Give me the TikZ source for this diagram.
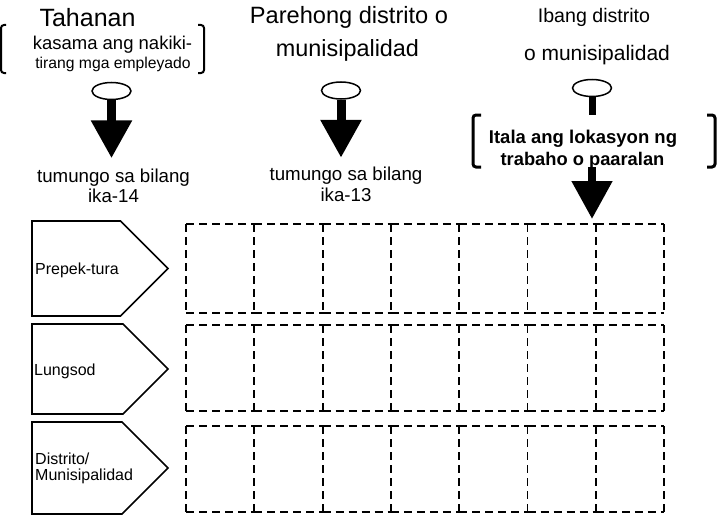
\documentclass[tikz,border=0pt]{standalone}
\usepackage{fontspec}
\setmainfont{Liberation Sans}
\usetikzlibrary{arrows.meta,shapes.geometric}
\newcommand{\fsz}[2]{\fontsize{#1}{#2}\selectfont}
\tikzset{
  blk/.style={line width=9pt,-{Triangle[width=39pt,length=38pt]}},
  ell/.style={ellipse,draw,line width=1.5pt,minimum width=39pt,minimum height=17pt,inner sep=0pt},
  brk/.style={line width=2pt,rounded corners=3pt},
  frame/.style={inner sep=0pt,outer sep=0pt},
  cell/.style={minimum width=68.3pt,inner sep=0pt,outer sep=0pt},
  dsh/.style={dash pattern=on 8pt off 5pt,line width=1.8pt},
  pent/.style={line width=1.6pt,line join=miter},
  lbl/.style={anchor=base,inner sep=0pt},
}

\begin{document}
\begin{tikzpicture}[x=1pt,y=-1pt]
	\useasboundingbox (0,0) rectangle (722,519);
	% left column
	\node[lbl,font=\fsz{25}{30}] (tah) at (87.5,27) {Tahanan};
	\node[lbl,font=\fsz{18.5}{22}] (tahb) at (112.5,49) {kasama ang nakiki-};
	\node[lbl,font=\fsz{15.7}{19}] (tahc) at (113,68) {tirang mga empleyado};
	\node[frame,minimum width=203pt,minimum height=48pt] (tahf) at (102.5,49) {};
	\draw[brk] ([xshift=5pt]tahf.north west) -- (tahf.north west) -- (tahf.south west) -- ([xshift=5pt]tahf.south west);
	\draw[brk] ([xshift=-6pt]tahf.north east) -- (tahf.north east) -- (tahf.south east) -- ([xshift=-6pt]tahf.south east);
	\node[ell] (ella) at (111.5,91) {};
	\node[lbl,font=\fsz{18.7}{22}] (tuma) at (113.5,182) {tumungo sa bilang};
	\node[lbl,font=\fsz{18.7}{22}] (ikaa) at (113.5,202.5) {ika-14};
	\draw[blk,shorten >=10pt] (ella.south) -- (ella.south |- tuma.north);
	% middle column
	\node[lbl,font=\fsz{23.6}{28}] (par) at (349,23.3) {Parehong distrito o};
	\node[lbl,font=\fsz{23.4}{28}] (parb) at (347.5,56.7) {munisipalidad};
	\node[ell] (ellb) at (341,90.5) {};
	\node[lbl,font=\fsz{18.7}{22}] (tumb) at (346,180.5) {tumungo sa bilang};
	\node[lbl,font=\fsz{18.7}{22}] (ikab) at (346,201.5) {ika-13};
	\draw[blk,shorten >=9pt] (ellb.south) -- (ellb.south |- tumb.north);
	% right column
	\node[lbl,font=\fsz{19.6}{24}] (iba) at (594,22.7) {Ibang distrito};
	\node[lbl,font=\fsz{21}{25}] (ibab) at (597,60) {o munisipalidad};
	\node[ell] (ellc) at (592,88) {};
	\node[lbl,font=\fsz{18.5}{22}\bfseries] (ita) at (583,143.3) {Itala ang lokasyon ng};
	\node[lbl,font=\fsz{18.3}{22}\bfseries] (itb) at (582.5,165.7) {trabaho o paaralan};
	\node[frame,minimum width=242pt,minimum height=52pt] (itf) at (594,141) {};
	\draw[brk,line width=3pt] ([xshift=8pt]itf.north west) -- (itf.north west) -- (itf.south west) -- ([xshift=8pt]itf.south west);
	\draw[brk,line width=3pt] ([xshift=-8pt]itf.north east) -- (itf.north east) -- (itf.south east) -- ([xshift=-8pt]itf.south east);
	\draw[line width=7pt] (ellc.south) -- (ellc.south |- itf.north);
	% rows
	\foreach \r/\t/\b in {1/224/313,2/325/411,3/426/512} {
		\foreach \c in {1,...,7} {
			\node[cell,minimum height={\b-\t}] (c\r\c) at ({186+(\c-0.5)*68.3},{(\t+\b)/2}) {};
			\draw[dsh] (c\r\c.north west) -- (c\r\c.north east);
			\draw[dsh] (c\r\c.north west) -- (c\r\c.south west);
			\draw[dsh] (c\r\c.south west) -- (c\r\c.south east);
		}
		\draw[dsh] (c\r7.north east) -- (c\r7.south east);
	}
	\foreach \t/\b in {221/316,324/414,422/514} {
		\draw[pent] (32,\t) -- ({168-(\b-\t)/2},\t) -- (168,{(\t+\b)/2}) -- ({168-(\b-\t)/2},\b) -- (32,\b) -- cycle;
	}
	\node[lbl,anchor=base west,font=\fsz{16}{16}] (pref) at (35,274) {Prepek-tura};
	\node[lbl,anchor=base west,font=\fsz{16}{16}] (lung) at (34,375.5) {Lungsod};
	\node[lbl,anchor=base west,font=\fsz{16}{16}] (dist) at (35,464) {Distrito/};
	\node[lbl,anchor=base west,font=\fsz{16}{16}] (muni) at (35,480) {Munisipalidad};
	\draw[blk,line width=8pt,shorten >=5pt] (ellc.south |- itf.south) -- (ellc.south |- c17.north);
\end{tikzpicture}
\end{document}
